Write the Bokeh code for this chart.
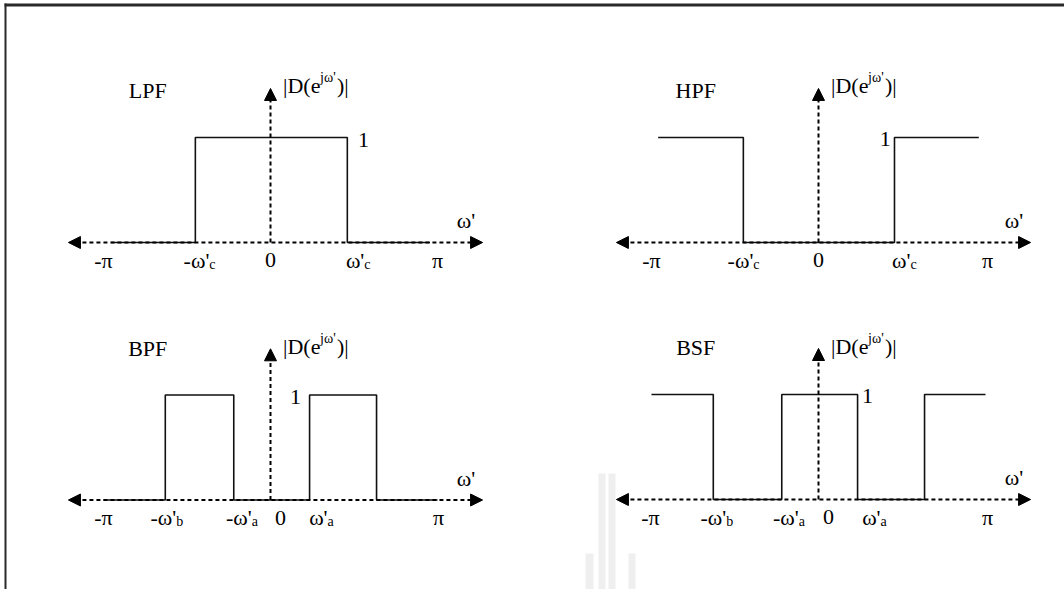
from bokeh.plotting import figure
from bokeh.models import Range1d, Arrow, NormalHead
from bokeh.core.properties import value
from bokeh.embed import file_html
from bokeh.resources import INLINE

# ---------------- data (frequency in units of pi, magnitude 0 / 1) ----------------
panel_names = ["LPF", "HPF", "BPF", "BSF"]

lpf_edges = [-0.955, -0.45, 0.46, 0.955]
lpf_levels = [0, 1, 0]
hpf_edges = [-0.96, -0.45, 0.455, 0.96]
hpf_levels = [1, 0, 1]
bpf_edges = [-1.0, -0.63, -0.22, 0.234, 0.635, 1.0]
bpf_levels = [0, 1, 0, 1, 0]
bsf_edges = [-1.0, -0.63, -0.22, 0.234, 0.635, 1.0]
bsf_levels = [1, 0, 1, 0, 1]

lpf_ticks = [-1.0, -0.45, 0.0, 0.46, 1.0]
lpf_tick_main = ["-π", "-ω'", "0", "ω'", "π"]
lpf_tick_sub = ["", "c", "", "c", ""]
hpf_ticks = [-1.0, -0.45, 0.0, 0.455, 1.0]
hpf_tick_main = ["-π", "-ω'", "0", "ω'", "π"]
hpf_tick_sub = ["", "c", "", "c", ""]
bpf_ticks = [-1.0, -0.63, -0.22, 0.0, 0.234, 1.0]
bpf_tick_main = ["-π", "-ω'", "-ω'", "0", "ω'", "π"]
bpf_tick_sub = ["", "b", "a", "", "a", ""]
bsf_ticks = [-1.0, -0.63, -0.22, 0.0, 0.234, 1.0]
bsf_tick_main = ["-π", "-ω'", "-ω'", "0", "ω'", "π"]
bsf_tick_sub = ["", "b", "a", "", "a", ""]

# ---------------- layout / style ----------------
W, H = 1064, 589
SX, SY = 167.0, 105.0
FONT = "Liberation Serif"
FS = 22
FS_SMALL = 14
YO = -7  # vertical text nudge in pixels

# axis origin of every panel, in page pixels
centres = {"LPF": (270, 242), "HPF": (818, 242), "BPF": (270, 499.5), "BSF": (818, 499)}
# pixel nudges of tick labels (style only)
tick_nudge = {
    "LPF": [0, 14, 0, 17, 0],
    "HPF": [0, 10, 0, 16, 2],
    "BPF": [0, 11, 18, 10, 18, 1],
    "BSF": [-1, 13, 17, 10, 23, 2],
}
one_pos = {"LPF": (0.557, 0.91), "HPF": (0.40, 0.915), "BPF": (0.15, 0.91), "BSF": (0.293, 0.915)}
mag_label_y = {"LPF": 1.43, "HPF": 1.43, "BPF": 1.395, "BSF": 1.395}
vtip = {"LPF": 1.467, "HPF": 1.467, "BPF": 1.44, "BSF": 1.438}

data = {
    "LPF": (lpf_edges, lpf_levels, lpf_ticks, lpf_tick_main, lpf_tick_sub),
    "HPF": (hpf_edges, hpf_levels, hpf_ticks, hpf_tick_main, hpf_tick_sub),
    "BPF": (bpf_edges, bpf_levels, bpf_ticks, bpf_tick_main, bpf_tick_sub),
    "BSF": (bsf_edges, bsf_levels, bsf_ticks, bsf_tick_main, bsf_tick_sub),
}

p = figure(width=W, height=H, output_backend="svg", toolbar_location=None,
           x_range=Range1d(0, W), y_range=Range1d(H, 0),
           x_axis_location=None, y_axis_location=None, min_border=0)
p.grid.visible = False
p.outline_line_color = None
p.background_fill_color = "white"
p.border_fill_color = "white"

# frame of the original figure (top and left rules)
p.segment(x0=[4], y0=[4.5], x1=[W], y1=[4.5], line_color="#2a2a2a", line_width=3)
p.segment(x0=[5], y0=[3], x1=[5], y1=[H], line_color="#2a2a2a", line_width=2)

# faint watermark
p.quad(left=[598, 608, 585, 628], right=[605, 615, 593, 635],
       top=[473, 473, 553, 553], bottom=[H, H, H, H],
       fill_color="#efefef", line_color=None)


def txt(name, x, y, text, size=FS, align="center", baseline="alphabetic", xo=0, yo=0):
    p.text(x=[x], y=[y], text=[text], x_range_name=name + "x", y_range_name=name + "y",
           text_font=value(FONT), text_font_size=f"{size}px", text_align=align,
           text_baseline=baseline, x_offset=xo, y_offset=yo + YO, text_color="black")


for name in panel_names:
    cx, cy = centres[name]
    p.extra_x_ranges[name + "x"] = Range1d((0 - cx) / SX, (W - cx) / SX)
    p.extra_y_ranges[name + "y"] = Range1d((cy - H) / SY, cy / SY)

    edges, levels, ticks, tmain, tsub = data[name]
    xs, ys = [], []
    for i, lev in enumerate(levels):
        xs += [edges[i], edges[i + 1]]
        ys += [lev, lev]
    p.line(xs, ys, line_color="#111111", line_width=1.6,
           x_range_name=name + "x", y_range_name=name + "y")

    # dashed axes with arrow heads
    head = dict(size=12, fill_color="black", line_color="black", line_width=1)
    p.add_layout(Arrow(start=NormalHead(**head), end=NormalHead(**head),
                       x_start=-1.21, y_start=0, x_end=1.27, y_end=0,
                       line_dash="4 3", line_width=2, line_color="black",
                       x_range_name=name + "x", y_range_name=name + "y"))
    p.add_layout(Arrow(end=NormalHead(**head),
                       x_start=0, y_start=0, x_end=0, y_end=vtip[name],
                       line_dash="4 3", line_width=2, line_color="black",
                       x_range_name=name + "x", y_range_name=name + "y"))

    # tick labels
    for t, m, s, nud in zip(ticks, tmain, tsub, tick_nudge[name]):
        if s:
            txt(name, t, -0.235, m, align="right", xo=nud)
            txt(name, t, -0.235, s, size=FS_SMALL, align="left", xo=nud, yo=4)
        else:
            txt(name, t, -0.235, m, align="center", xo=nud)

    # filter name, "1", omega', |D(e^{jw'})|
    txt(name, -0.735, 1.38, name)
    ox, oy = one_pos[name]
    txt(name, ox, oy, "1")
    txt(name, 1.17, 0.14, "ω'")
    my = mag_label_y[name]
    txt(name, 0.075, my, "|D(e", align="left")
    txt(name, 0.075, my, "jω'", size=FS_SMALL, align="left", xo=37, yo=-8)
    txt(name, 0.075, my, ")|", align="left", xo=54)

open("out.html", "w").write(file_html(p, INLINE))
